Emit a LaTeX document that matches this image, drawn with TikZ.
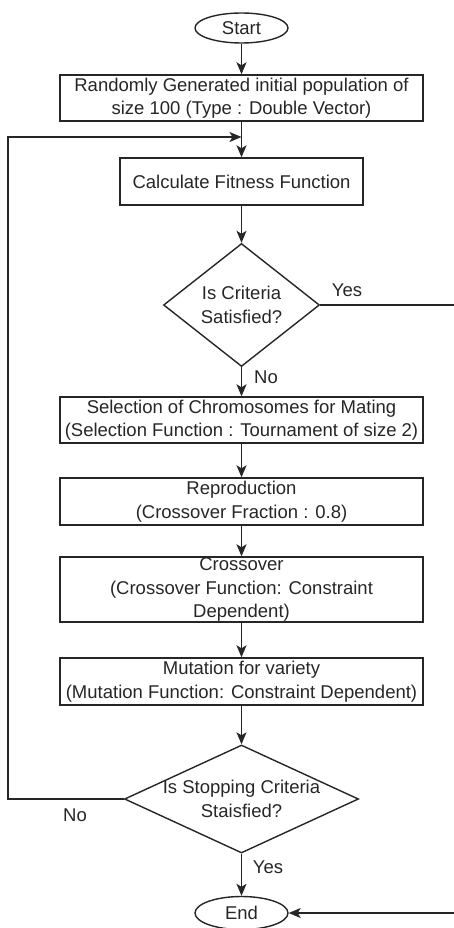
\documentclass[tikz,border=0pt]{standalone}
\usepackage{fontspec}
\setmainfont{Liberation Sans}
\usetikzlibrary{shapes.geometric,arrows.meta}
\begin{document}
\begin{tikzpicture}[x=1pt,y=-1pt,
  every node/.style={font=\fontsize{18.5}{23.5}\selectfont, text=black!85},
  box/.style={draw=black!85, line width=1.4pt, rectangle, align=center, inner sep=0pt, minimum width=363},
  ell/.style={draw=black!85, line width=1.4pt, ellipse, inner sep=0pt, minimum width=93, minimum height=30},
  dia/.style={draw=black!85, line width=1.4pt, diamond, inner sep=0pt},
  arr/.style={draw=black!85, line width=1.4pt, -{Stealth[length=12pt,width=10pt,inset=3pt]}},
  lbl/.style={inner sep=0pt}
]
\useasboundingbox (0,0) rectangle (453,928);

\node[ell] (start) at (241.5,28) {Start};
\node[box, minimum height=46] (b1) at (241.5,98) {Randomly Generated initial population of\\size 100 (Type : Double Vector)};
\node[box, minimum width=243, minimum height=47] (b2) at (241.5,181.5) {Calculate Fitness Function};
\node[dia, minimum width=156, minimum height=123,
  label={[align=center, inner sep=0pt]center:Is Criteria\\Satisfied?}] (d1) at (241.5,305) {};
\node[box, minimum height=46] (b3) at (241.5,420) {Selection of Chromosomes for Mating\\(Selection Function : Tournament of size 2)};
\node[box, minimum height=47] (b4) at (241.5,501.5) {Reproduction\\(Crossover Fraction : 0.8)};
\node[box, minimum height=65] (b5) at (241.5,589.5) {Crossover\\(Crossover Function: Constraint\\Dependent)};
\node[box, minimum height=47] (b6) at (241.5,681.5) {Mutation for variety\\(Mutation Function: Constraint Dependent)};
\node[dia, minimum width=234, minimum height=108,
  label={[align=center, inner sep=0pt]center:Is Stopping Criteria\\Staisfied?}] (d2) at (241.5,799) {};
\node[ell, minimum height=33] (end) at (241.5,913) {End};

\coordinate (join) at (241.5,137);
\coordinate (loopBL) at (8,799);
\coordinate (loopTL) at (8,137);
\coordinate (rt) at (458,305);
\coordinate (rb) at (458,913);

\draw[arr] (start) -- (b1);
\draw[arr] (b1) -- (b2);
\draw[arr] (d2.west) -- (loopBL) -- (loopTL) -- (join);
\draw[arr] (b2) -- (d1);
\draw[arr] (d1.east) -- (rt) -- (rb) -- (end.east);
\draw[arr] (d1) -- (b3);
\draw[arr] (b3) -- (b4);
\draw[arr] (b4) -- (b5);
\draw[arr] (b5) -- (b6);
\draw[arr] (b6) -- (d2);
\draw[arr] (d2) -- (end);

\node[lbl] (yes1) at (347,290) {Yes};
\node[lbl] (no1) at (266,377) {No};
\node[lbl] (no2) at (75,815) {No};
\node[lbl] (yes2) at (268,867) {Yes};
\end{tikzpicture}
\end{document}
